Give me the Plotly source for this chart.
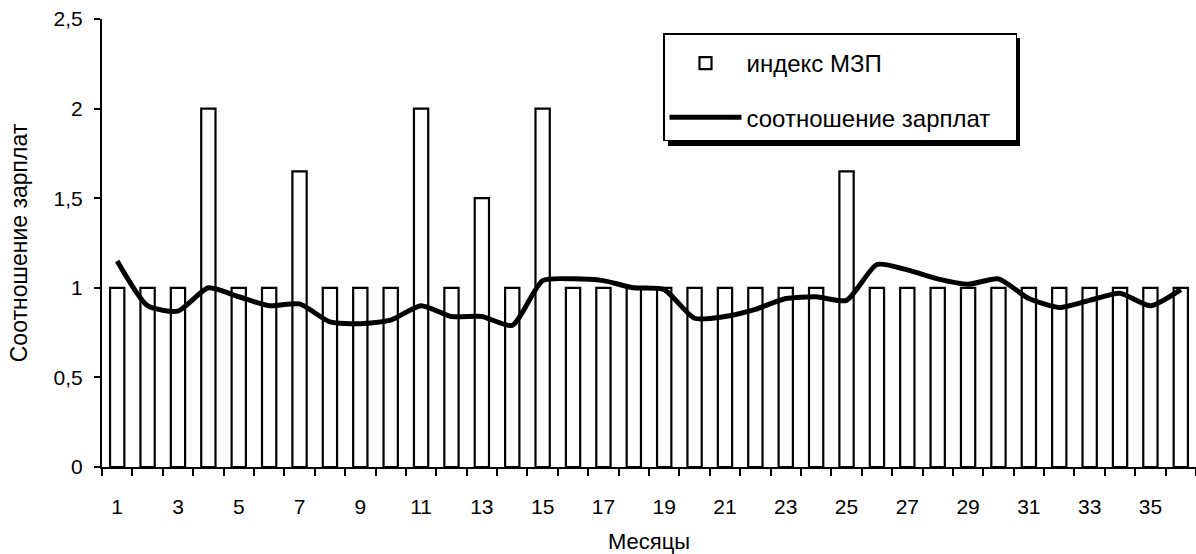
import plotly.graph_objects as go

months = list(range(1, 37))
mzp_index = [1, 1, 1, 2.0, 1, 1, 1.65, 1, 1, 1,
             2.0, 1, 1.5, 1, 2.0, 1, 1, 1, 1, 1,
             1, 1, 1, 1, 1.65, 1, 1, 1, 1, 1,
             1, 1, 1, 1, 1, 1]
wage_ratio = [1.15, 0.90, 0.87, 1.00, 0.95, 0.90, 0.91, 0.81, 0.80, 0.82,
              0.90, 0.84, 0.84, 0.79, 1.04, 1.05, 1.04, 1.00, 0.99, 0.83,
              0.84, 0.88, 0.94, 0.95, 0.93, 1.13, 1.10, 1.05, 1.02, 1.05,
              0.94, 0.89, 0.93, 0.97, 0.90, 0.99]
label_months = months[::2]
boundaries = [m - 0.5 for m in months] + [months[-1] + 0.5]

FONT = "Liberation Sans, Arial, sans-serif"

W, H = 1196, 554
L, R, T, B = 102, 0, 19, 87
PW, PH = W - L - R, H - T - B


def px_x(px):
    return (px - L) / PW


def px_y(py):
    return 1 - (py - T) / PH


NBSP = "\u00a0"

fig = go.Figure()
fig.add_trace(go.Bar(
    x=months, y=mzp_index, name="индекс МЗП",
    marker=dict(color="white", line=dict(color="black", width=2.2)),
    width=0.47, legendgroup="a",
))
fig.add_trace(go.Scatter(
    x=months, y=wage_ratio, name="соотношение зарплат" + NBSP * 3, mode="lines",
    line=dict(color="black", width=5, shape="spline", smoothing=0.6),
    legendgroup="b",
))

# legend drop shadow
fig.add_shape(type="rect", xref="paper", yref="paper",
              x0=px_x(668), x1=px_x(1020), y0=px_y(146), y1=px_y(38),
              fillcolor="black", line=dict(width=0), layer="above")

fig.update_layout(
    width=W, height=H,
    margin=dict(l=L, r=R, t=T, b=B, autoexpand=False),
    paper_bgcolor="white", plot_bgcolor="white",
    separators=", ",
    font=dict(family=FONT, color="black", size=21),
    showlegend=True,
    legend=dict(
        x=px_x(663), y=px_y(33),
        xanchor="left", yanchor="top",
        bgcolor="white", bordercolor="black", borderwidth=1.5,
        font=dict(family=FONT, size=24, color="black"),
        title=dict(text=NBSP, font=dict(size=5)),
        itemwidth=72, tracegroupgap=20, traceorder="grouped",
    ),
    xaxis=dict(
        range=[0.5, 36.5], showgrid=False, zeroline=False, automargin=False,
        showline=True, linecolor="black", linewidth=2,
        tickmode="array", tickvals=label_months,
        ticktext=[str(m) for m in label_months],
        ticks="", ticklabelstandoff=20,
        tickfont=dict(family=FONT, size=21, color="black"),
        minor=dict(tickmode="array", tickvals=boundaries, ticks="outside",
                   ticklen=7, tickwidth=1.5, tickcolor="black", showgrid=False),
        title=dict(text="Месяцы", font=dict(family=FONT, size=22, color="black"),
                   standoff=28),
    ),
    yaxis=dict(
        range=[0, 2.5], dtick=0.5, tick0=0, showgrid=False, zeroline=False,
        automargin=False,
        showline=True, linecolor="black", linewidth=2,
        ticks="outside", ticklen=6, tickwidth=1.5, tickcolor="black",
        ticklabelstandoff=7,
        tickfont=dict(family=FONT, size=21, color="black"),
        title=dict(text="Соотношение зарплат",
                   font=dict(family=FONT, size=23, color="black"), standoff=20),
    ),
)

fig.write_html("out.html", config={"displayModeBar": False},
               post_script="document.body.style.margin='0';")
